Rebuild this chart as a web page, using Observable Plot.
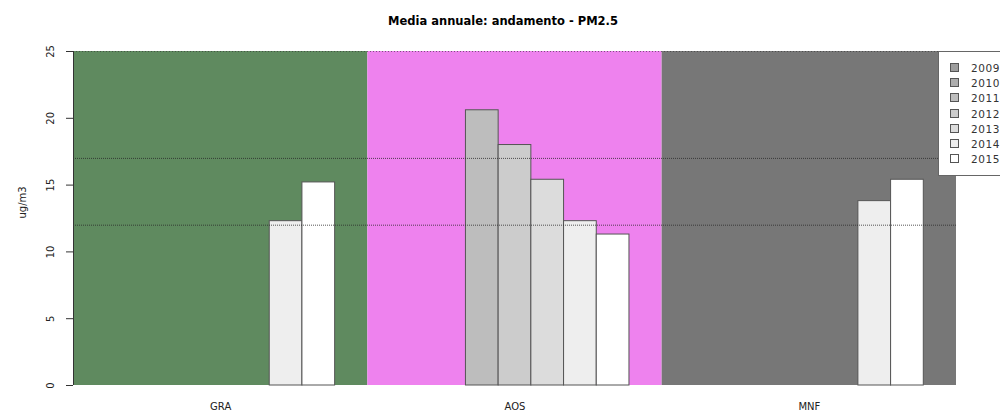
<!DOCTYPE html>
<html>
<head>
<meta charset="utf-8">
<script src="https://cdn.jsdelivr.net/npm/d3@7"></script>
<script src="https://cdn.jsdelivr.net/npm/@observablehq/plot@0.6"></script>
<style>
  html, body { margin: 0; padding: 0; background: #fff; overflow: hidden; }
  #wrap { position: relative; width: 1000px; height: 417px; font-family: "DejaVu Sans", sans-serif; }
  #legend { position: absolute; left: 938px; top: 51px; width: 80px; height: 125px; border: 1px solid #666; background: #fff; box-sizing: border-box; }
  .li { position: absolute; left: 11px; font-size: 10.5px; color: #333; line-height: 11px; letter-spacing: 0.6px; white-space: nowrap; }
  .sw { display: inline-block; width: 7px; height: 7px; border: 1px solid #555; margin-right: 12px; vertical-align: 0px; }
</style>
</head>
<body>
<div id="wrap"></div>
<script>
const title = "Media annuale: andamento - PM2.5";
const yLabel = "ug/m3";
const stations = ["GRA", "AOS", "MNF"];
const stationColors = ["#5f8a5f", "#ee82ee", "#777777"];
const years = [2009, 2010, 2011, 2012, 2013, 2014, 2015];
const yearColors = ["#9d9d9d", "#adadad", "#bdbdbd", "#cccccc", "#dcdcdc", "#eeeeee", "#ffffff"];
const valuesGRA = [null, null, null, null, null, 12.3, 15.2];
const valuesAOS = [null, null, 20.6, 18.0, 15.4, 12.3, 11.3];
const valuesMNF = [null, null, null, null, null, 13.8, 15.4];
const refLines = [17, 12];
const yTicks = [0, 5, 10, 15, 20, 25];
const yMax = 25;

const series = [valuesGRA, valuesAOS, valuesMNF];
const groupSize = years.length + 2; // bars + spacing (R barplot beside)
const bars = [];
series.forEach((vals, g) => {
  vals.forEach((v, i) => {
    if (v != null) bars.push({station: stations[g], year: years[i], value: v,
      x1: g * groupSize + 1 + i, x2: g * groupSize + 2 + i, color: yearColors[i]});
  });
});
const groups = stations.map((s, g) => ({station: s, x1: g * groupSize, x2: (g + 1) * groupSize, color: stationColors[g], cx: g * groupSize + groupSize / 2}));

const chart = Plot.plot({
  width: 1000,
  height: 417,
  marginLeft: 73,
  marginRight: 44,
  marginTop: 51,
  marginBottom: 32,
  style: {fontFamily: "DejaVu Sans, sans-serif", fontSize: "10px", color: "#222", background: "#fff"},
  x: {domain: [0, stations.length * groupSize], axis: null},
  y: {domain: [0, yMax], axis: null},
  marks: [
    Plot.rect(groups, {x1: "x1", x2: "x2", y1: 0, y2: yMax, fill: "color"}),
    Plot.ruleY([yMax], {stroke: "#333", strokeOpacity: 0.6, strokeDasharray: "1,2"}),
    Plot.rectY(bars, {x1: "x1", x2: "x2", y1: 0, y2: "value", fill: "color", stroke: "#555", strokeWidth: 1}),
    Plot.ruleY(refLines, {stroke: "#2a2a2a", strokeOpacity: 0.8, strokeDasharray: "1,1"}),
    Plot.axisY({ticks: yTicks, tickSize: 7, tickFormat: () => "", stroke: "#333", label: null}),
    Plot.text(yTicks, {frameAnchor: "left", y: d => d, text: d => String(d), dx: -23, rotate: -90, fontSize: 10, fill: "#222", lineAnchor: "middle", textAnchor: "middle"}),
    Plot.text([yLabel], {frameAnchor: "left", dx: -51, rotate: -90, fontSize: 10, fill: "#222", lineAnchor: "middle"}),
    Plot.ruleX([0], {y1: 0, y2: yMax, stroke: "#333"}),
    Plot.axisX({ticks: groups.map(d => d.cx), tickFormat: (d, i) => stations[i], tickSize: 0, tickPadding: 17, fontSize: 10, fill: "#222"}),
    Plot.text([title], {frameAnchor: "top", dy: -35, dx: -12, fontSize: 11.5, fontWeight: "bold", fill: "#000"})
  ]
});
document.getElementById("wrap").appendChild(chart);

const legend = document.createElement("div");
legend.id = "legend";
years.forEach((y, i) => {
  const row = document.createElement("div");
  row.className = "li";
  row.style.top = (11 + i * 15.2) + "px";
  row.innerHTML = `<span class="sw" style="background:${yearColors[i]}"></span>${y}`;
  legend.appendChild(row);
});
document.getElementById("wrap").appendChild(legend);
</script>
</body>
</html>
